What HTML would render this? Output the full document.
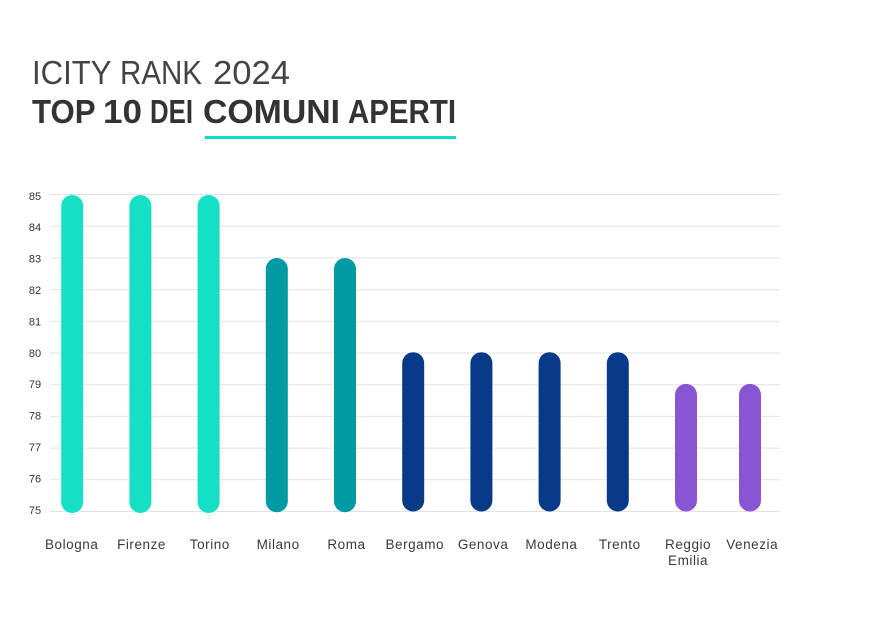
<!DOCTYPE html>
<html lang="it">
<head>
<meta charset="utf-8">
<title>ICITY RANK 2024</title>
<style>
html,body{margin:0;padding:0;background:#fff;width:873px;height:625px;overflow:hidden}
svg{display:block}
text{font-family:"Liberation Sans",sans-serif;fill:#333}
.tick{font-size:11px;text-anchor:middle}
.cat{font-size:13.5px;text-anchor:middle;letter-spacing:.55px;fill:#3a3a3a}
</style>
</head>
<body>
<svg id="chart" width="873" height="625" viewBox="0 0 873 625" xmlns="http://www.w3.org/2000/svg">
  <text y="84" font-size="33" style="fill:#444">
    <tspan x="32" textLength="79" lengthAdjust="spacingAndGlyphs">ICITY</tspan>
    <tspan x="120" textLength="82" lengthAdjust="spacingAndGlyphs">RANK</tspan>
    <tspan x="213" textLength="77" lengthAdjust="spacingAndGlyphs">2024</tspan>
  </text>
  <text y="123" font-size="33" font-weight="700">
    <tspan x="32" textLength="63" lengthAdjust="spacingAndGlyphs">TOP</tspan>
    <tspan x="103" textLength="39" lengthAdjust="spacingAndGlyphs">10</tspan>
    <tspan x="150" textLength="43" lengthAdjust="spacingAndGlyphs">DEI</tspan>
    <tspan x="203" textLength="137" lengthAdjust="spacingAndGlyphs">COMUNI</tspan>
    <tspan x="348" textLength="108" lengthAdjust="spacingAndGlyphs">APERTI</tspan>
  </text>
  <rect x="205" y="136" width="251" height="3" fill="#10dcc8"></rect>
  <g id="grid"></g>
  <g id="yticks"></g>
  <g id="bars"></g>
  <g id="xticks"></g>
</svg>
<script>
const categories = [["Bologna"],["Firenze"],["Torino"],["Milano"],["Roma"],["Bergamo"],["Genova"],["Modena"],["Trento"],["Reggio","Emilia"],["Venezia"]];
const values = [85,85,85,83,83,80,80,80,80,79,79];
const yTickLabels = [85,84,83,82,81,80,79,78,77,76,75];

const NS = "http://www.w3.org/2000/svg";
const yMin = 75, yMax = 85, yTop = 194.5, yBottom = 511.5;
function y(v){ return yBottom - (v - yMin) / (yMax - yMin) * (yBottom - yTop); }
function labelY(v){ return 513.8 - (v - yMin) * 31.4; }
function x(i){ return Math.min(72.2 + i * 68.2, 750); }
function labelX(i){ return x(i) + (i === 0 ? -0.5 : 1 + i * 0.12); }
function barColor(v){ return v >= 85 ? "#15e0c6" : v >= 83 ? "#009aa2" : v >= 80 ? "#093a88" : "#8a55d2"; }
function barOvershoot(v){ return v >= 85 ? 1.5 : v >= 83 ? 0.7 : 0; }
function barTopShift(v){ return v >= 85 ? 0.5 : v >= 83 ? 0.1 : -0.8; }

const barWidth = 22;
const grid = document.getElementById("grid");
const yticks = document.getElementById("yticks");
const bars = document.getElementById("bars");
const xticks = document.getElementById("xticks");

yTickLabels.forEach(function(t){
  const line = document.createElementNS(NS, "line");
  
  
  line.setAttribute("x1", 50);
  line.setAttribute("x2", 780);
  line.setAttribute("y1", y(t));
  line.setAttribute("y2", y(t));
  line.setAttribute("stroke", "#e2e2e2");
  line.setAttribute("stroke-width", 1);
  grid.appendChild(line);

  const label = document.createElementNS(NS, "text");
  
  
  label.setAttribute("class", "tick");
  label.setAttribute("x", 35);
  label.setAttribute("y", labelY(t));
  label.textContent = t;
  yticks.appendChild(label);
});

values.forEach(function(v, i){
  const top = y(v) + barTopShift(v);
  const bottom = yBottom + barOvershoot(v);
  const bar = document.createElementNS(NS, "rect");
  
  
  bar.setAttribute("x", x(i) - barWidth / 2);
  bar.setAttribute("y", top);
  bar.setAttribute("width", barWidth);
  bar.setAttribute("height", bottom - top);
  bar.setAttribute("rx", 11);
  bar.setAttribute("ry", 11);
  bar.setAttribute("fill", barColor(v));
  bars.appendChild(bar);

  const label = document.createElementNS(NS, "text");
  
  
  label.setAttribute("class", "cat");
  label.setAttribute("y", 549);
  categories[i].forEach(function(part, k){
    const span = document.createElementNS(NS, "tspan");
    span.setAttribute("x", labelX(i));
    span.setAttribute("y", 549 + k * 16);
    span.textContent = part;
    label.appendChild(span);
  });
  xticks.appendChild(label);
});
</script>
</body>
</html>
